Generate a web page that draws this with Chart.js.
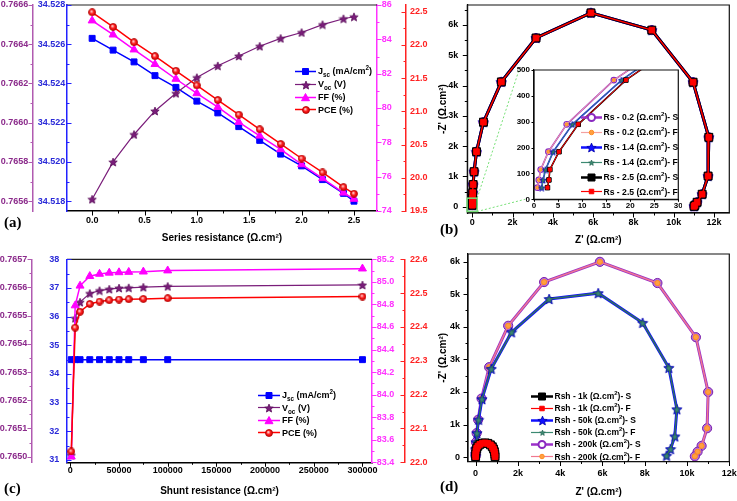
<!DOCTYPE html>
<html>
<head>
<meta charset="utf-8">
<script src="https://cdn.jsdelivr.net/npm/chart.js@4.4.1/dist/chart.umd.min.js"></script>
<style>
  body { margin: 0; background: #fff; }
  #fig { position: relative; width: 737px; height: 501px; overflow: hidden; background: #fff; }
  #fig canvas.ch { position: absolute; }
  .tag { position: absolute; font: bold 15px "Liberation Serif", "Times New Roman", serif; color: #000; }
  .leg { position: absolute; font-family: Arial, "Liberation Sans", sans-serif; font-weight: bold; color: #000; white-space: nowrap; }
  .leg .row { display: flex; align-items: center; }
  .leg canvas { flex: none; }
  .leg sub, .leg sup { font-size: 70%; line-height: 0; }
</style>
</head>
<body>
<div id="fig">
  <canvas class="ch" id="chartA" width="440" height="250" style="left:0;top:0"></canvas>
  <canvas class="ch" id="chartC" width="440" height="250" style="left:0;top:250px"></canvas>
  <canvas class="ch" id="chartB" width="305" height="250" style="left:432px;top:0"></canvas>
  <canvas class="ch" id="chartD" width="305" height="250" style="left:432px;top:250px"></canvas>
  <canvas class="ch" id="zoomLines" width="305" height="250" style="left:432px;top:0"></canvas>
  <canvas class="ch" id="chartInset" width="174" height="146" style="left:508px;top:64px"></canvas>
  <div class="tag" style="left:4px;top:214px">(a)</div>
  <div class="tag" style="left:440px;top:221px">(b)</div>
  <div class="tag" style="left:4px;top:480px">(c)</div>
  <div class="tag" style="left:440px;top:478px">(d)</div>
  <div class="leg" id="legA" style="left:295px;top:65px;font-size:9px"></div>
  <div class="leg" id="legC" style="left:258px;top:389px;font-size:9px"></div>
  <div class="leg" id="legB" style="left:581px;top:110px;font-size:8.6px"></div>
  <div class="leg" id="legD" style="left:531px;top:390px;font-size:8.5px"></div>
</div>
<script>
// (a) series resistance sweep
const rsValues = [0, 0.2, 0.4, 0.6, 0.8, 1.0, 1.2, 1.4, 1.6, 1.8, 2.0, 2.2, 2.4, 2.5];
const rsJsc = [34.5263, 34.5257, 34.5251, 34.5244, 34.5238, 34.5231, 34.5225, 34.5218, 34.5211, 34.5204, 34.5198, 34.5191, 34.5184, 34.5180];
const rsVoc = [0.76561, 0.76580, 0.76594, 0.76606, 0.76615, 0.76623, 0.76629, 0.76634, 0.76639, 0.76643, 0.76646, 0.76650, 0.76653, 0.76654];
const rsFF = [85.09, 84.27, 83.40, 82.55, 81.69, 80.85, 80.05, 79.18, 78.38, 77.59, 76.71, 75.90, 75.06, 74.70];
const rsPCE = [22.49, 22.27, 22.04, 21.83, 21.61, 21.39, 21.17, 20.95, 20.73, 20.51, 20.29, 20.08, 19.86, 19.76];

// (c) shunt resistance sweep
const rshValues = [1000, 5000, 10000, 20000, 30000, 40000, 50000, 60000, 75000, 100000, 300000];
const rshJsc = [34.50, 34.50, 34.50, 34.50, 34.50, 34.50, 34.50, 34.50, 34.50, 34.50, 34.50];
const rshVoc = [0.765005, 0.765491, 0.765548, 0.765579, 0.765589, 0.765594, 0.765598, 0.765599, 0.765601, 0.765604, 0.765609];
const rshFF = [83.45, 84.79, 84.965, 85.05, 85.07, 85.08, 85.084, 85.087, 85.09, 85.10, 85.117];
const rshPCE = [22.032, 22.398, 22.445, 22.468, 22.475, 22.479, 22.481, 22.482, 22.483, 22.485, 22.490];

// (b) Nyquist plots for three series resistances (S and F share values)
const eisRsY = [45, 75, 115, 184, 290, 461, 730, 1155, 1815, 2790, 4120, 5570, 6400, 5830, 4110, 2290, 1010, 410, 145, 45, 10];
const eisRs02X = [0.7, 1.0, 1.4, 3.0, 6.8, 16.6, 38, 85, 205, 550, 1440, 3160, 5890, 8910, 10960, 11740, 11706, 11410, 11160, 11050, 11010];
const eisRs14X = [1.6, 1.9, 2.4, 4.0, 8.0, 18.2, 39, 86, 206, 551, 1441, 3161, 5891, 8911, 10961, 11741, 11707, 11411, 11161, 11051, 11011];
const eisRs25X = [2.8, 3.1, 3.3, 5.2, 9.2, 19.1, 40, 87, 207, 552, 1442, 3162, 5892, 8912, 10962, 11742, 11708, 11412, 11162, 11052, 11012];
const zoomBoxX = [-260, 240];
const zoomBoxY = [-160, 280];

// (d) Nyquist plots for three shunt resistances
const rsh1kX = [0, 5, 20, 50, 110, 200, 320, 450, 580, 700, 790, 850, 890, 910, 920];
const rsh1kY = [20, 100, 190, 270, 340, 395, 430, 440, 425, 380, 320, 250, 170, 90, 20];
const rsh50kX = [0, 0, 5, 20, 60, 140, 300, 740, 1700, 3480, 5800, 7900, 9140, 9520, 9420, 9220, 9030];
const rsh50kY = [30, 110, 250, 460, 740, 1150, 1780, 2710, 3830, 4850, 5030, 4120, 2740, 1470, 640, 250, 50];
const rsh200kX = [0, 0, 5, 20, 50, 120, 280, 640, 1540, 3240, 5880, 8600, 10420, 11000, 10950, 10690, 10500, 10370];
const rsh200kY = [30, 110, 250, 460, 740, 1150, 1800, 2760, 4030, 5370, 5990, 5340, 3680, 2000, 890, 350, 170, 30];

// tick labels
const aXTicks = [0, 0.5, 1.0, 1.5, 2.0, 2.5];
const aVocTicks = [0.7656, 0.7658, 0.7660, 0.7662, 0.7664, 0.7666];
const aJscTicks = [34.518, 34.520, 34.522, 34.524, 34.526, 34.528];
const aFFTicks = [74, 76, 78, 80, 82, 84, 86];
const aPCETicks = [19.5, 20.0, 20.5, 21.0, 21.5, 22.0, 22.5];
const cXTicks = [0, 50000, 100000, 150000, 200000, 250000, 300000];
const cVocTicks = [0.7650, 0.7651, 0.7652, 0.7653, 0.7654, 0.7655, 0.7656, 0.7657];
const cJscTicks = [31, 32, 33, 34, 35, 36, 37, 38];
const cFFTicks = [83.4, 83.6, 83.8, 84.0, 84.2, 84.4, 84.6, 84.8, 85.0, 85.2];
const cPCETicks = [22.0, 22.1, 22.2, 22.3, 22.4, 22.5, 22.6];
const zXTicks = [0, 2000, 4000, 6000, 8000, 10000, 12000];
const zYTicks = [0, 1000, 2000, 3000, 4000, 5000, 6000];
const insetXTicks = [0, 5, 10, 15, 20, 25, 30];
const insetYTicks = [0, 100, 200, 300, 400, 500];

Chart.defaults.font.family = 'Arial, "Liberation Sans", sans-serif';
Chart.defaults.font.weight = 'bold';
Chart.defaults.color = '#000';

function pts(xs, ys) { return xs.map((x, i) => ({ x: x, y: ys[i] })); }

function starImg(size, fill, stroke) {
  const c = document.createElement('canvas');
  c.width = c.height = size;
  const g = c.getContext('2d');
  const r = size / 2 - 0.6, cx = size / 2, cy = size / 2 + 0.5;
  g.beginPath();
  for (let i = 0; i < 10; i++) {
    const rr = i % 2 ? r * 0.45 : r;
    const a = -Math.PI / 2 + i * Math.PI / 5;
    g.lineTo(cx + rr * Math.cos(a), cy + rr * Math.sin(a));
  }
  g.closePath();
  g.fillStyle = fill; g.fill();
  if (stroke) { g.strokeStyle = stroke; g.lineWidth = 0.8; g.stroke(); }
  return c;
}

function ballImg(size) {
  const c = document.createElement('canvas');
  c.width = c.height = size;
  const g = c.getContext('2d');
  const r = size / 2;
  const grd = g.createRadialGradient(r * 0.8, r * 0.75, 0.3, r, r, r);
  grd.addColorStop(0, '#ffd6d6');
  grd.addColorStop(0.45, '#ff2020');
  grd.addColorStop(1, '#c80000');
  g.fillStyle = grd;
  g.beginPath(); g.arc(r, r, r - 0.5, 0, Math.PI * 2); g.fill();
  g.strokeStyle = '#b00000'; g.lineWidth = 0.8; g.stroke();
  return c;
}

const starVoc = starImg(10, '#7a1d7a', '#5a0f5a');
const ballPCE = ballImg(8);
const starBlueBig = starImg(12, '#1010ff', '#0000aa');
const starGreenMid = starImg(8, '#3c8a72', '#2c6a58');
const starBlueSmall = starImg(8, '#1010ff', '#0000aa');
const starGreenSmall = starImg(5, '#3c8a72', '#2c6a58');
const starBlueLeg = starImg(11, '#1010ff', '#0000aa');
const starGreenLeg = starImg(7, '#3c8a72', '#2c6a58');

function tickList(major, minor, min, max) {
  const out = [];
  const step = major[1] - major[0];
  if (minor && major[0] - step / 2 >= min) out.push({ value: major[0] - step / 2, m: true });
  major.forEach((v, i) => {
    out.push({ value: v });
    if (minor) {
      const nxt = i < major.length - 1 ? major[i + 1] : v + step;
      const mid = (v + nxt) / 2;
      if (mid <= max) out.push({ value: mid, m: true });
    }
  });
  return out;
}

function makeAxis(o) {
  const horiz = o.position === 'bottom';
  return {
    type: 'linear', position: o.position, weight: o.weight || 0,
    min: o.min, max: o.max,
    afterBuildTicks: s => { s.ticks = tickList(o.ticks, o.minor !== false, o.min, o.max); },
    afterFit: s => {
      if (horiz) s.height = o.size; else s.width = o.size;
      // keep the plot area where it is set, not pushed by label overhang
      s.paddingTop = s.paddingBottom = s.paddingLeft = s.paddingRight = 0;
    },
    grid: { drawOnChartArea: false, drawTicks: false },
    border: { color: o.color, width: o.bw || 1.5 },
    ticks: {
      color: o.text || o.color,
      font: { size: o.fs || 9, weight: 'bold' },
      padding: o.pad, autoSkip: false, maxRotation: 0, minRotation: 0,
      callback: (v, i, t) => (t[i] && t[i].m) ? '' : o.fmt(v)
    },
    title: o.title ? {
      display: true, text: o.title, color: '#000',
      font: { size: 10, weight: 'bold', lineHeight: 1.2 }, padding: o.tpad
    } : { display: false }
  };
}

// plot frame: top line only, or the full box
const frame = {
  id: 'frame',
  afterDraw(chart, args, opts) {
    const { ctx, chartArea: a } = chart;
    ctx.save();
    ctx.strokeStyle = opts.color || '#222';
    ctx.lineWidth = opts.width || 1.2;
    ctx.beginPath();
    if (opts.full) {
      ctx.rect(a.left, a.top, a.right - a.left, a.bottom - a.top);
    } else {
      ctx.moveTo(a.left, a.top); ctx.lineTo(a.right, a.top);
    }
    ctx.stroke();
    ctx.restore();
  }
};

// tick marks pointing in or out, minor ticks shorter
const tickMarks = {
  id: 'tickMarks',
  afterDraw(chart, args, opts) {
    const ctx = chart.ctx;
    const len = opts.len || [4.5, 2.5];
    Object.keys(opts.dirs || {}).forEach(id => {
      const s = chart.scales[id];
      const pos = s.position;
      const sign = (pos === 'left' || pos === 'top') ? -1 : 1;
      const d = opts.dirs[id] === 'out' ? sign : -sign;
      const edge = pos === 'left' ? s.right : pos === 'right' ? s.left : pos === 'bottom' ? s.top : s.bottom;
      ctx.save();
      ctx.strokeStyle = s.options.border.color;
      ctx.lineWidth = 1;
      ctx.beginPath();
      s.ticks.forEach(t => {
        if (t.value < s.min || t.value > s.max) return;
        const l = t.m ? len[1] : len[0];
        const p = Math.round(s.getPixelForValue(t.value)) + 0.5;
        if (s.isHorizontal()) { ctx.moveTo(p, edge); ctx.lineTo(p, edge + d * l); }
        else { ctx.moveTo(edge, p); ctx.lineTo(edge + d * l, p); }
      });
      ctx.stroke();
      ctx.restore();
    });
  }
};

function line(xs, ys, axisId, color, style, order, radius, lw, extra) {
  return Object.assign({
    data: pts(xs, ys), yAxisID: axisId, showLine: true, tension: 0,
    borderColor: color, borderWidth: lw, backgroundColor: color,
    pointStyle: style, pointRadius: radius, pointBorderColor: color,
    pointBackgroundColor: color, pointBorderWidth: 1, order: order
  }, extra || {});
}

const baseOpts = {
  responsive: false, devicePixelRatio: 1, animation: false, events: []
};

function sweepChart(id, xs, ys, ax, pad) {
  return new Chart(id, {
    type: 'scatter',
    data: { datasets: [
      line(xs, ys.pce, 'yPCE', '#ff0000', ballPCE, 0, 4, 1.5),
      line(xs, ys.ff, 'yFF', '#ff00ff', 'triangle', 1, 4.6, 1.5),
      line(xs, ys.voc, 'yVoc', '#7a1d7a', starVoc, 2, 4, 1.2),
      line(xs, ys.jsc, 'yJsc', '#0000ff', 'rect', 3, 4.2, 1.5)
    ] },
    options: Object.assign({}, baseOpts, {
      layout: { autoPadding: false, padding: pad },
      plugins: {
        legend: { display: false }, tooltip: { enabled: false },
        frame: { full: false },
        tickMarks: { dirs: { x: 'out', yVoc: 'out', yJsc: 'in', yFF: 'out', yPCE: 'in' } }
      },
      scales: ax
    }),
    plugins: [frame, tickMarks]
  });
}

// (a)
sweepChart('chartA', rsValues, { jsc: rsJsc, voc: rsVoc, ff: rsFF, pce: rsPCE }, {
  x: makeAxis({ position: 'bottom', min: -0.24, max: 2.72, ticks: aXTicks, color: '#000', size: 39, pad: 4.1,
    fmt: v => v.toFixed(1), title: 'Series resistance (Ω.cm²)', tpad: { top: 0, bottom: 6 } }),
  yVoc: makeAxis({ position: 'left', weight: 2, min: 0.76555, max: 0.7666, ticks: aVocTicks, color: '#b05ab0', text: '#8b2a8b', size: 33, pad: 4.7, fmt: v => v.toFixed(4) }),
  yJsc: makeAxis({ position: 'left', weight: 1, min: 34.5175, max: 34.528, ticks: aJscTicks, color: '#2222ff', text: '#2a2ad8', size: 34, pad: 1.7, fmt: v => v.toFixed(3) }),
  yFF: makeAxis({ position: 'right', weight: 1, min: 74, max: 86, ticks: aFFTicks, color: '#ff33ff', size: 29, pad: 4.7, fmt: v => v.toFixed(0) }),
  yPCE: makeAxis({ position: 'right', weight: 2, min: 19.5, max: 22.6, ticks: aPCETicks, color: '#ff2222', size: 34, pad: 4, fmt: v => v.toFixed(1) })
}, { top: 5, left: 0, right: 0, bottom: 0 });

// (c)
sweepChart('chartC', rshValues, { jsc: rshJsc, voc: rshVoc, ff: rshFF, pce: rshPCE }, {
  x: makeAxis({ position: 'bottom', min: -3400, max: 309800, ticks: cXTicks, color: '#000', size: 37.7, pad: 3,
    fmt: v => String(v), title: 'Shunt resistance (Ω.cm²)', tpad: { top: 0, bottom: 2.3 } }),
  yVoc: makeAxis({ position: 'left', weight: 2, min: 0.76498, max: 0.7657, ticks: cVocTicks, color: '#b05ab0', text: '#8b2a8b', size: 32, pad: 4.7, fmt: v => v.toFixed(4) }),
  yJsc: makeAxis({ position: 'left', weight: 1, min: 30.92, max: 38, ticks: cJscTicks, color: '#2222ff', text: '#2a2ad8', size: 35, pad: 7.7, fmt: v => v.toFixed(0) }),
  yFF: makeAxis({ position: 'right', weight: 1, min: 83.4, max: 85.2, ticks: cFFTicks, color: '#ff33ff', size: 33, pad: 4.7, fmt: v => v.toFixed(1) }),
  yPCE: makeAxis({ position: 'right', weight: 2, min: 22.0, max: 22.6, ticks: cPCETicks, color: '#ff2222', size: 35, pad: 5, fmt: v => v.toFixed(1) })
}, { top: 9.3, left: 0, right: 0, bottom: 0 });

// Nyquist helpers
const kFmt = v => v === 0 ? '0' : (v / 1000) + 'k';

function eisSet(xs, ys, o) {
  return {
    data: pts(xs, ys), showLine: true, tension: 0,
    borderColor: o.line, borderWidth: o.lw,
    pointStyle: o.style, pointRadius: o.r,
    pointBackgroundColor: o.fill, pointBorderColor: o.stroke || o.fill,
    pointBorderWidth: o.bw || 1, order: o.order
  };
}

function nyquist(id, sets, ax, pad, dirs, len) {
  return new Chart(id, {
    type: 'scatter',
    data: { datasets: sets },
    options: Object.assign({}, baseOpts, {
      layout: { autoPadding: false, padding: pad },
      plugins: {
        legend: { display: false }, tooltip: { enabled: false },
        frame: { full: true, color: '#111', width: 1.2 },
        tickMarks: { dirs: dirs, len: len }
      },
      scales: ax
    }),
    plugins: [frame, tickMarks]
  });
}

// (b) main
const chartB = nyquist('chartB', [
  eisSet(eisRs25X, eisRsY, { line: '#ff0000', lw: 1.5, style: 'rect', r: 4, fill: '#ff0000', order: 0 }),
  eisSet(eisRs25X, eisRsY, { line: '#000000', lw: 3, style: 'rect', r: 5.6, fill: '#000000', order: 1 }),
  eisSet(eisRs14X, eisRsY, { line: '#3c8a72', lw: 1.5, style: starGreenMid, r: 4, fill: '#3c8a72', order: 2 }),
  eisSet(eisRs14X, eisRsY, { line: '#1010ff', lw: 3, style: starBlueBig, r: 6, fill: '#1010ff', order: 3 }),
  eisSet(eisRs02X, eisRsY, { line: '#f4a0a0', lw: 1.5, style: 'circle', r: 2.5, fill: '#ffa040', stroke: '#ff8a20', order: 4 }),
  eisSet(eisRs02X, eisRsY, { line: '#9b30c8', lw: 3, style: 'circle', r: 4.6, fill: '#9b40d0', stroke: '#7a1fa8', order: 5 })
], {
  x: makeAxis({ position: 'bottom', min: -250, max: 12760, ticks: zXTicks, color: '#000', size: 37, pad: 4.3, bw: 1.2,
    fmt: kFmt, title: "Z' (Ω.cm²)", tpad: { top: 0, bottom: 3.3 } }),
  y: makeAxis({ position: 'left', min: -210, max: 6660, ticks: zYTicks, color: '#000', size: 35.3, pad: 9, bw: 1.2,
    fmt: kFmt, title: "-Z' (Ω.cm²)", tpad: { top: 5, bottom: 0 } })
}, { top: 5, left: 0, right: 7.7, bottom: 0 }, { x: 'out', y: 'out' });

// (b) inset
const chartInset = nyquist('chartInset', [
  eisSet(eisRs25X, eisRsY, { line: '#ff0000', lw: 1, style: 'rect', r: 2.2, fill: '#ff0000', order: 0 }),
  eisSet(eisRs25X, eisRsY, { line: '#000000', lw: 1.6, style: 'rect', r: 3.2, fill: '#000000', order: 1 }),
  eisSet(eisRs14X, eisRsY, { line: '#3c8a72', lw: 1, style: starGreenSmall, r: 3, fill: '#3c8a72', order: 2 }),
  eisSet(eisRs14X, eisRsY, { line: '#1010ff', lw: 1.6, style: starBlueSmall, r: 4, fill: '#1010ff', order: 3 }),
  eisSet(eisRs02X, eisRsY, { line: '#f4a0a0', lw: 1, style: 'circle', r: 1.6, fill: '#ffa040', stroke: '#ff8a20', order: 4 }),
  eisSet(eisRs02X, eisRsY, { line: '#9b30c8', lw: 1.6, style: 'circle', r: 2.8, fill: '#e8d0f8', stroke: '#8a2ac0', bw: 1.2, order: 5 })
], {
  x: makeAxis({ position: 'bottom', min: 0, max: 30, ticks: insetXTicks, color: '#000', size: 10.7, pad: 1.6, bw: 1.2, fs: 8, minor: false, fmt: v => String(v) }),
  y: makeAxis({ position: 'left', min: 0, max: 500, ticks: insetYTicks, color: '#000', size: 26, pad: 4, bw: 1.2, fs: 8, minor: false, fmt: v => String(v) })
}, { top: 6, left: 0, right: 3.7, bottom: 0 }, { x: 'out', y: 'out' }, [2.5, 1.5]);

// (d)
nyquist('chartD', [
  eisSet(rsh1kX, rsh1kY, { line: '#ff0000', lw: 1.5, style: 'rect', r: 4, fill: '#ff0000', order: 0 }),
  eisSet(rsh1kX, rsh1kY, { line: '#000000', lw: 3, style: 'rect', r: 5.6, fill: '#000000', order: 1 }),
  eisSet(rsh50kX, rsh50kY, { line: '#2e6e5e', lw: 1.5, style: starGreenMid, r: 4, fill: '#3c8a72', order: 2 }),
  eisSet(rsh50kX, rsh50kY, { line: '#1010ff', lw: 3, style: starBlueBig, r: 6, fill: '#1010ff', order: 3 }),
  eisSet(rsh200kX, rsh200kY, { line: '#f07890', lw: 1.5, style: 'circle', r: 2.6, fill: '#ffa040', stroke: '#ff8a20', order: 4 }),
  eisSet(rsh200kX, rsh200kY, { line: '#9b30c8', lw: 3, style: 'circle', r: 4.6, fill: '#b070e0', stroke: '#7a1fa8', order: 5 })
], {
  x: makeAxis({ position: 'bottom', min: -360, max: 12000, ticks: zXTicks, color: '#000', size: 38.5, pad: 6.4, bw: 1.2,
    fmt: kFmt, title: "Z' (Ω.cm²)", tpad: { top: 0, bottom: 2 } }),
  y: makeAxis({ position: 'left', min: -130, max: 6230, ticks: zYTicks, color: '#000', size: 36, pad: 8, bw: 1.2,
    fmt: kFmt, title: "-Z' (Ω.cm²)", tpad: { top: 5, bottom: 0 } })
}, { top: 4, left: 0, right: 7.7, bottom: 0 }, { x: 'out', y: 'out' });

// zoom box on (b) and its guide lines to the inset
(function () {
  const g = document.getElementById('zoomLines').getContext('2d');
  const sx = chartB.scales.x, sy = chartB.scales.y;
  const x0 = sx.getPixelForValue(zoomBoxX[0]), x1 = sx.getPixelForValue(zoomBoxX[1]);
  const y0 = sy.getPixelForValue(zoomBoxY[0]), y1 = sy.getPixelForValue(zoomBoxY[1]);
  const ia = chartInset.chartArea;
  const offX = 508 - 432, offY = 64;
  g.strokeStyle = '#77e077';
  g.lineWidth = 1.5;
  g.strokeRect(x0, y1, x1 - x0, y0 - y1);
  g.lineWidth = 1;
  g.setLineDash([2, 2]);
  g.beginPath();
  g.moveTo(x1, y1); g.lineTo(offX + ia.left - 15, offY + ia.top);
  g.moveTo(x1, y0); g.lineTo(offX + ia.left - 9, offY + ia.bottom);
  g.stroke();
})();

// legends
function drawSymbol(g, w, h, it) {
  const cy = h / 2, cx = w / 2;
  g.strokeStyle = it.line; g.lineWidth = it.lw;
  g.beginPath(); g.moveTo(0, cy); g.lineTo(w, cy); g.stroke();
  if (it.img) {
    g.drawImage(it.img, Math.round(cx - it.img.width / 2), Math.round(cy - it.img.height / 2));
    return;
  }
  const s = it.size;
  g.fillStyle = it.fill; g.strokeStyle = it.stroke || it.fill; g.lineWidth = it.bw || 1;
  g.beginPath();
  if (it.shape === 'rect') g.rect(cx - s / 2, cy - s / 2, s, s);
  else if (it.shape === 'circle') g.arc(cx, cy, s / 2, 0, Math.PI * 2);
  else if (it.shape === 'triangle') { g.moveTo(cx, cy - s / 2); g.lineTo(cx + s / 2, cy + s * 0.4); g.lineTo(cx - s / 2, cy + s * 0.4); g.closePath(); }
  g.fill(); g.stroke();
}

function buildLegend(id, items, rowH, symW, gap) {
  const box = document.getElementById(id);
  items.forEach(it => {
    const row = document.createElement('div');
    row.className = 'row';
    row.style.height = rowH + 'px';
    const c = document.createElement('canvas');
    c.width = symW; c.height = Math.ceil(rowH);
    drawSymbol(c.getContext('2d'), symW, Math.ceil(rowH), it);
    const t = document.createElement('span');
    t.innerHTML = it.label;
    t.style.marginLeft = gap + 'px';
    row.append(c, t);
    box.append(row);
  });
}

const sweepLegend = [
  { label: 'J<sub>sc</sub> (mA/cm<sup>2</sup>)', line: '#0000ff', lw: 1.5, shape: 'rect', size: 6, fill: '#0000ff' },
  { label: 'V<sub>oc</sub> (V)', line: '#7a1d7a', lw: 1.2, img: starVoc },
  { label: 'FF (%)', line: '#ff00ff', lw: 1.5, shape: 'triangle', size: 8, fill: '#ff00ff' },
  { label: 'PCE (%)', line: '#ff0000', lw: 1.5, img: ballPCE }
];
buildLegend('legA', sweepLegend, 12.8, 21, 2);
buildLegend('legC', sweepLegend, 12.5, 22, 2);

function nyqLegend(prefix, vals) {
  return [
    { label: prefix + vals[0] + ' (Ω.cm<sup>2</sup>)- S', line: '#9b30c8', lw: 2.5, shape: 'circle', size: 7, fill: '#ffffff', stroke: '#8a2ac0', bw: 2 },
    { label: prefix + vals[0] + ' (Ω.cm<sup>2</sup>)- F', line: '#f4a0a0', lw: 1.2, shape: 'circle', size: 4.5, fill: '#ffa040', stroke: '#ff8a20' },
    { label: prefix + vals[1] + ' (Ω.cm<sup>2</sup>)- S', line: '#1010ff', lw: 2.5, img: starBlueLeg },
    { label: prefix + vals[1] + ' (Ω.cm<sup>2</sup>)- F', line: '#3c8a72', lw: 1.2, img: starGreenLeg },
    { label: prefix + vals[2] + ' (Ω.cm<sup>2</sup>)- S', line: '#000000', lw: 2.5, shape: 'rect', size: 7, fill: '#000000' },
    { label: prefix + vals[2] + ' (Ω.cm<sup>2</sup>)- F', line: '#ff0000', lw: 1.2, shape: 'rect', size: 4.5, fill: '#ff0000' }
  ];
}
const legB = nyqLegend('Rs - ', ['0.2', '1.4', '2.5']);
const legD = nyqLegend('Rsh - ', ['1k', '50k', '200k']);
// (d) orders its legend by resistance: 1k (squares), 50k (stars), 200k (circles)
buildLegend('legB', legB, 14.9, 21, 1.5);
buildLegend('legD', [
  Object.assign({}, legB[4], { label: legD[0].label }),
  Object.assign({}, legB[5], { label: legD[1].label }),
  Object.assign({}, legB[2], { label: legD[2].label }),
  Object.assign({}, legB[3], { label: legD[3].label }),
  Object.assign({}, legB[0], { label: legD[4].label }),
  Object.assign({}, legB[1], { label: legD[5].label, line: '#f07890' })
], 12.1, 22, 1.5);
</script>
</body>
</html>
